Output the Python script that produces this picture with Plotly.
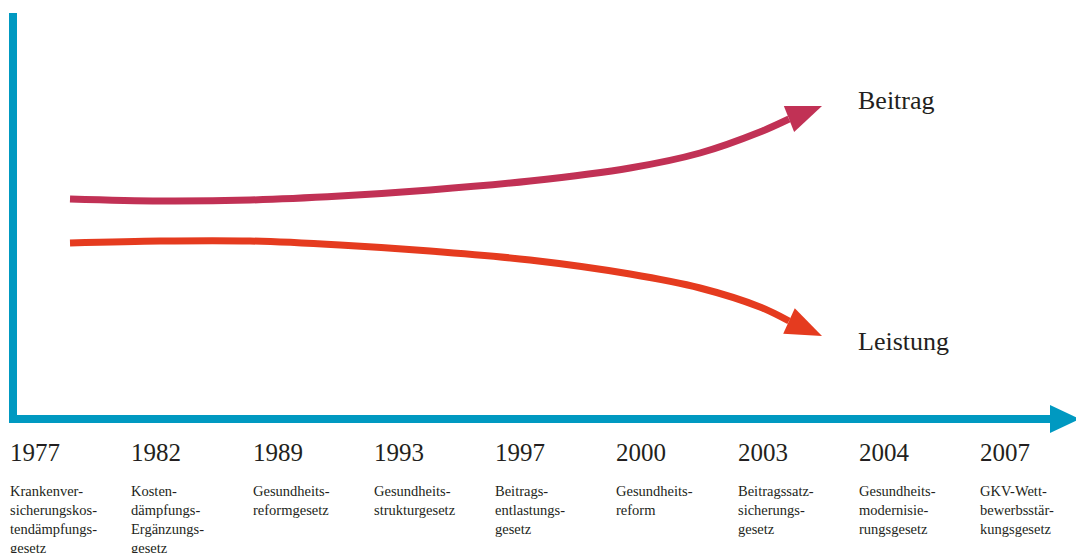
import numpy as np
import plotly.graph_objects as go

# ---- data ----
years = ["1977", "1982", "1989", "1993", "1997", "2000", "2003", "2004", "2007"]
laws = [
    "Krankenver-<br>sicherungskos-<br>tendämpfungs-<br>gesetz",
    "Kosten-<br>dämpfungs-<br>Ergänzungs-<br>gesetz",
    "Gesundheits-<br>reformgesetz",
    "Gesundheits-<br>strukturgesetz",
    "Beitrags-<br>entlastungs-<br>gesetz",
    "Gesundheits-<br>reform",
    "Beitragssatz-<br>sicherungs-<br>gesetz",
    "Gesundheits-<br>modernisie-<br>rungsgesetz",
    "GKV-Wett-<br>bewerbsstär-<br>kungsgesetz",
]
series_names = ["Beitrag", "Leistung"]
curve_x = [70, 160, 250, 340, 430, 530, 630, 700, 760, 789]
beitrag_y = [199, 201, 200, 196, 190, 181, 168, 153, 132, 119]
leistung_y = [243, 241, 241, 245, 251, 260, 274, 288, 307, 321]
beitrag_tip = (822, 106)
leistung_tip = (822, 336)

# ---- styles ----
W, H = 1076, 553
BLUE = "#0099C1"
C_BEITRAG = "#C13155"
C_LEISTUNG = "#E53B1F"
TXT = "#231F20"
SERIF = "Liberation Serif, Times New Roman, serif"
label_pos = [(856, 100), (856, 341)]

fig = go.Figure()


def head(base, tip, half):
    bx, by = base
    tx, ty = tip
    d = np.array([tx - bx, ty - by], dtype=float)
    d /= np.linalg.norm(d)
    n = np.array([-d[1], d[0]])
    p1 = np.array([bx, by]) + n * half
    p2 = np.array([bx, by]) - n * half
    return [p1[0], tx, p2[0], p1[0]], [p1[1], ty, p2[1], p1[1]]


# axes (blue arrow)
fig.add_trace(go.Scatter(x=[13, 13], y=[13, 419], mode="lines",
                         line=dict(color=BLUE, width=8), hoverinfo="skip"))
fig.add_trace(go.Scatter(x=[9, 1052], y=[419, 419], mode="lines",
                         line=dict(color=BLUE, width=8), hoverinfo="skip"))
hx, hy = head((1050, 419), (1080, 419), 14)
fig.add_trace(go.Scatter(x=hx, y=hy, mode="lines", fill="toself", fillcolor=BLUE,
                         line=dict(color=BLUE, width=0), hoverinfo="skip"))

# curves
for ys, tip, col in [(beitrag_y, beitrag_tip, C_BEITRAG), (leistung_y, leistung_tip, C_LEISTUNG)]:
    fig.add_trace(go.Scatter(x=curve_x, y=ys, mode="lines",
                             line=dict(color=col, width=7, shape="spline", smoothing=0.9),
                             hoverinfo="skip"))
    ax_, ay_ = head((curve_x[-1], ys[-1]), tip, 14)
    fig.add_trace(go.Scatter(x=ax_, y=ay_, mode="lines", fill="toself", fillcolor=col,
                             line=dict(color=col, width=0), hoverinfo="skip"))

# series labels
for name, (lx, ly) in zip(series_names, label_pos):
    fig.add_annotation(x=lx, y=ly, text=name, showarrow=False,
                       xanchor="left", yanchor="middle",
                       font=dict(family=SERIF, size=26, color=TXT))

# year + law labels
step = 121.25
for i, (yr, law) in enumerate(zip(years, laws)):
    x0 = 8 + i * step
    fig.add_annotation(x=x0, y=452, text=yr, showarrow=False, xanchor="left",
                       yanchor="middle", font=dict(family=SERIF, size=25, color=TXT))
    fig.add_annotation(x=x0, y=481, text=law, showarrow=False, xanchor="left",
                       yanchor="top", align="left",
                       font=dict(family=SERIF, size=14.5, color=TXT))

fig.update_layout(
    width=W, height=H, margin=dict(l=0, r=0, t=0, b=0),
    paper_bgcolor="white", plot_bgcolor="white", showlegend=False,
    xaxis=dict(range=[0, W], visible=False, fixedrange=True),
    yaxis=dict(range=[H, 0], visible=False, fixedrange=True),
)
fig.write_html("out.html")
